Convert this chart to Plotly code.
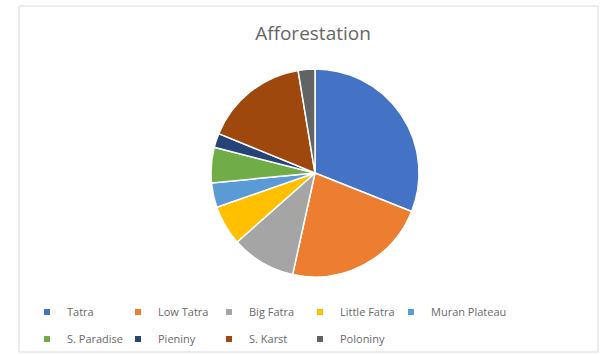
import plotly.graph_objects as go

# Share of afforestation by national park (percent)
parks = ["Tatra", "Low Tatra", "Big Fatra", "Little Fatra", "Muran Plateau",
         "S. Paradise", "Pieniny", "S. Karst", "Poloniny"]
shares = [31.0, 22.4, 10.0, 6.2, 3.8, 5.5, 2.2, 16.2, 2.6]
colors = ["#4472C4", "#ED7D31", "#A5A5A5", "#FFC000", "#5B9BD5",
          "#70AD47", "#264478", "#9E480E", "#636363"]

W, H = 603, 355
cx, cy, r = 315, 173, 104

fig = go.Figure()
fig.add_trace(go.Pie(
    labels=parks,
    values=shares,
    sort=False,
    direction="clockwise",
    rotation=0,
    textinfo="none",
    hoverinfo="label+percent",
    showlegend=False,
    marker=dict(colors=colors, line=dict(color="white", width=1.5)),
    domain=dict(x=[(cx - r) / W, (cx + r) / W],
                y=[(H - cy - r) / H, (H - cy + r) / H]),
))

# Legend laid out as a 5-column grid: one single-entry legend per park
legend_layout = {}
for i, (name, col) in enumerate(zip(parks, colors)):
    key = "legend" if i == 0 else f"legend{i + 1}"
    fig.add_trace(go.Scatter(
        x=[None], y=[None], mode="markers", name=name,
        marker=dict(symbol="square", size=6, color=col),
        legend=key, hoverinfo="skip",
    ))
    mx = 52 + 91 * (i % 5)       # marker column
    my = 312 + 27 * (i // 5)     # row centre
    legend_layout[key] = dict(
        x=(mx - 25) / W, xanchor="left",
        y=1 - my / H, yanchor="middle",
        orientation="h",
        font=dict(family="Open Sans", size=11, color="#6a6a6a"),
        bgcolor="rgba(0,0,0,0)",
    )

fig.update_layout(
    width=W, height=H,
    margin=dict(l=0, r=0, t=0, b=0, autoexpand=False),
    paper_bgcolor="white",
    plot_bgcolor="white",
    xaxis=dict(visible=False),
    yaxis=dict(visible=False),
    title=dict(text="Afforestation", x=313 / W, xanchor="center",
               y=1 - 33 / H, yanchor="middle",
               font=dict(family="Open Sans", size=19, color="#666666")),
    showlegend=True,
    shapes=[dict(type="rect", xref="paper", yref="paper",
                 x0=19 / W, x1=598 / W, y0=1 - 352 / H, y1=1 - 6 / H,
                 line=dict(color="#D9D9D9", width=1), fillcolor="rgba(0,0,0,0)")],
    **legend_layout,
)

fig.write_html("out.html")
